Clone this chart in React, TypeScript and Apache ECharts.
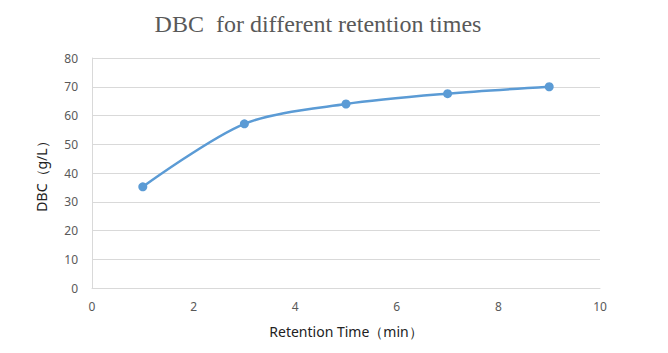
import React, { useEffect, useRef } from "react";
import * as echarts from "echarts";

const retentionTimes = [1, 3, 5, 7, 9];
const dbcValues = [35.2, 57.1, 64.0, 67.6, 70.0];
const titleText = "DBC  for different retention times";
const xName = "Retention Time（min）";
const yName = "DBC（g/L）";

export default function App() {
  const ref = useRef<HTMLDivElement>(null);
  useEffect(() => {
    if (!ref.current) return;
    const chart = echarts.init(ref.current, null, { renderer: "svg" });
    chart.setOption({
      animation: false,
      backgroundColor: "#ffffff",
      title: {
        text: titleText,
        left: 313,
        top: 7,
        textAlign: "center",
        textStyle: {
          fontFamily: "Liberation Serif",
          fontSize: 24,
          fontWeight: "normal",
          color: "#595959",
        },
      },
      grid: { left: 92, right: 68, top: 58, bottom: 65 },
      xAxis: {
        type: "value",
        min: 0,
        max: 10,
        interval: 2,
        name: xName,
        nameLocation: "middle",
        nameGap: 36,
        nameTextStyle: { fontFamily: "Noto Sans", fontSize: 14, color: "#222" },
        axisLine: { show: true, lineStyle: { color: "#d9d9d9" } },
        axisTick: { show: false },
        splitLine: { show: false },
        axisLabel: { fontFamily: "Noto Sans", fontSize: 12, color: "#595959", margin: 12 },
      },
      yAxis: {
        type: "value",
        min: 0,
        max: 80,
        interval: 10,
        name: yName,
        nameLocation: "middle",
        nameGap: 44,
        nameTextStyle: { fontFamily: "Noto Sans", fontSize: 14, color: "#222" },
        axisLine: { show: true, lineStyle: { color: "#d9d9d9" } },
        axisTick: { show: false },
        splitLine: { show: true, lineStyle: { color: "#d9d9d9", width: 1 } },
        axisLabel: { fontFamily: "Noto Sans", fontSize: 12, color: "#595959", margin: 14 },
      },
      series: [
        {
          type: "line",
          data: retentionTimes.map((t, i) => [t, dbcValues[i]]),
          smooth: 0.3,
          symbol: "circle",
          symbolSize: 9,
          lineStyle: { color: "#5b9bd5", width: 2.5 },
          itemStyle: { color: "#5b9bd5" },
        },
      ],
    });
    return () => chart.dispose();
  }, []);
  return <div ref={ref} style={{ width: 668, height: 353, position: "absolute", left: 0, top: 0 }} />;
}
